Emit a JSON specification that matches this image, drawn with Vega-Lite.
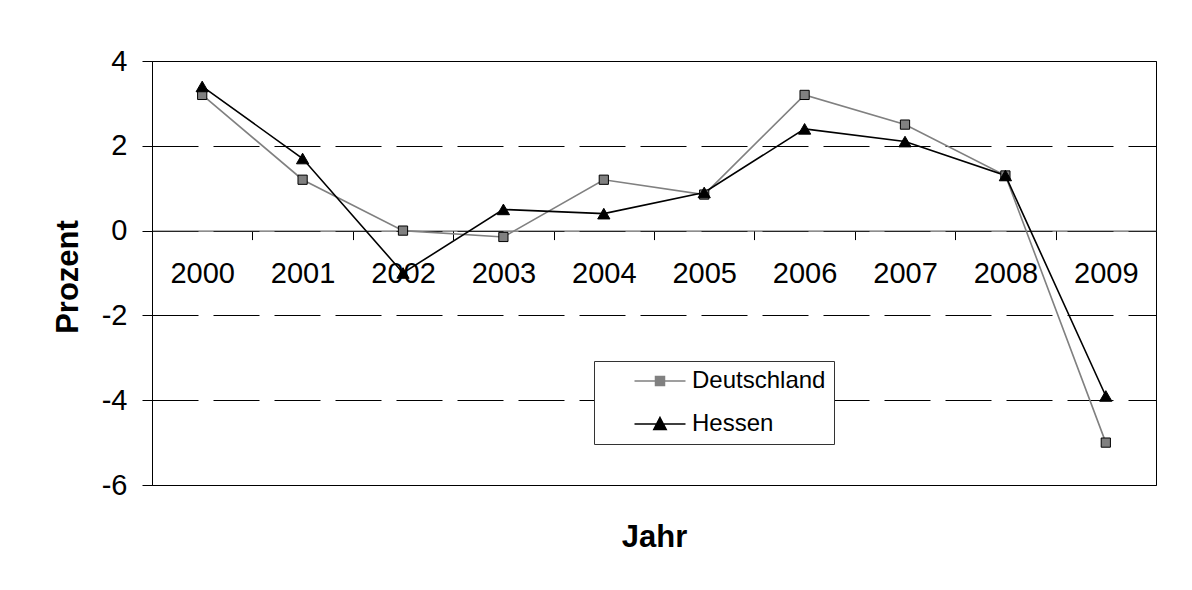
{
  "$schema": "https://vega.github.io/schema/vega-lite/v6.json",
  "width": 1004,
  "height": 424,
  "autosize": {"type": "none"},
  "padding": {"left": 152, "top": 61, "right": 36, "bottom": 105},
  "background": "white",
  "config": {
    "font": "Liberation Sans",
    "view": {"stroke": "#000", "strokeWidth": 1},
    "axis": {"labelColor": "#000", "titleColor": "#000", "labelFont": "Liberation Sans", "titleFont": "Liberation Sans"}
  },
  "data": {
    "values": [
      {"Jahr": 2000, "Region": "Deutschland", "Prozent": 3.2},
      {"Jahr": 2001, "Region": "Deutschland", "Prozent": 1.2},
      {"Jahr": 2002, "Region": "Deutschland", "Prozent": 0.0},
      {"Jahr": 2003, "Region": "Deutschland", "Prozent": -0.15},
      {"Jahr": 2004, "Region": "Deutschland", "Prozent": 1.2},
      {"Jahr": 2005, "Region": "Deutschland", "Prozent": 0.85},
      {"Jahr": 2006, "Region": "Deutschland", "Prozent": 3.2},
      {"Jahr": 2007, "Region": "Deutschland", "Prozent": 2.5},
      {"Jahr": 2008, "Region": "Deutschland", "Prozent": 1.3},
      {"Jahr": 2009, "Region": "Deutschland", "Prozent": -5.0},
      {"Jahr": 2000, "Region": "Hessen", "Prozent": 3.4},
      {"Jahr": 2001, "Region": "Hessen", "Prozent": 1.7},
      {"Jahr": 2002, "Region": "Hessen", "Prozent": -1.0},
      {"Jahr": 2003, "Region": "Hessen", "Prozent": 0.5},
      {"Jahr": 2004, "Region": "Hessen", "Prozent": 0.4},
      {"Jahr": 2005, "Region": "Hessen", "Prozent": 0.9},
      {"Jahr": 2006, "Region": "Hessen", "Prozent": 2.4},
      {"Jahr": 2007, "Region": "Hessen", "Prozent": 2.1},
      {"Jahr": 2008, "Region": "Hessen", "Prozent": 1.3},
      {"Jahr": 2009, "Region": "Hessen", "Prozent": -3.9}
    ]
  },
  "encoding": {
    "x": {
      "field": "Jahr",
      "type": "ordinal",
      "scale": {"paddingInner": 0, "paddingOuter": 0},
      "axis": {
        "orient": "bottom",
        "offset": -254.4,
        "title": "Jahr",
        "titleX": 502,
        "titleY": 316,
        "titleAlign": "center",
        "titleBaseline": "alphabetic",
        "titleFontSize": 31,
        "titleFontWeight": "bold",
        "labelAngle": 0,
        "labelFontSize": 29,
        "labelPadding": 20,
        "tickSize": 9,
        "tickBand": "extent",
        "tickColor": "#000",
        "domainColor": "#404040",
        "grid": false
      }
    },
    "y": {
      "field": "Prozent",
      "type": "quantitative",
      "scale": {"domain": [-6, 4], "nice": false, "zero": false},
      "axis": {
        "values": [-6, -4, -2, 0, 2, 4],
        "labelExpr": "'' + datum.value",
        "title": "Prozent",
        "titleX": -75,
        "titleY": 215.5,
        "titleAngle": -90,
        "titleAlign": "center",
        "titleBaseline": "alphabetic",
        "titleFontSize": 31,
        "titleFontWeight": "bold",
        "labelFontSize": 29,
        "labelPadding": 15,
        "tickSize": 10,
        "tickColor": "#000",
        "domainColor": "#000",
        "grid": true,
        "gridColor": "#000",
        "gridDash": [46, 15],
        "gridWidth": 1
      }
    }
  },
  "layer": [
    {
      "mark": {"type": "line", "strokeWidth": 1.6},
      "encoding": {
        "color": {
          "field": "Region",
          "type": "nominal",
          "scale": {"domain": ["Deutschland", "Hessen"], "range": ["#808080", "#000000"]},
          "legend": {
            "title": null,
            "orient": "none",
            "legendX": 442,
            "legendY": 300,
            "padding": 8,
            "strokeColor": "#333",
            "fillColor": "#fff",
            "symbolSize": 400,
            "symbolStrokeWidth": 1.5,
            "labelFontSize": 24,
            "labelFont": "Liberation Sans",
            "labelColor": "#000",
            "labelOffset": 66,
            "rowPadding": 19,
            "labelExpr": "datum.label + '\u00a0'",
            "encode": {
              "symbols": {
                "update": {
                  "shape": {"signal": "datum.value === 'Deutschland' ? 'M2.05,0H7.15M4.15,-0.45H5.05V0.45H4.15Z' : 'M2.05,0H7.15M4.6,-0.65L5.22,0.55H3.98Z'"},
                  "fill": {"signal": "datum.value === 'Deutschland' ? '#808080' : '#000000'"},
                  "stroke": {"signal": "datum.value === 'Deutschland' ? '#707070' : '#000000'"},
                  "opacity": {"value": 1}
                }
              }
            }
          }
        }
      }
    },
    {
      "transform": [{"filter": "datum.Region === 'Deutschland'"}],
      "mark": {"type": "point", "shape": "square", "filled": true, "fill": "#808080", "stroke": "#000", "strokeWidth": 1, "opacity": 1, "size": 85}
    },
    {
      "transform": [{"filter": "datum.Region === 'Hessen'"}],
      "mark": {"type": "point", "shape": "triangle-up", "filled": true, "fill": "#000", "stroke": "#000", "strokeWidth": 1, "opacity": 1, "size": 150}
    }
  ]
}
